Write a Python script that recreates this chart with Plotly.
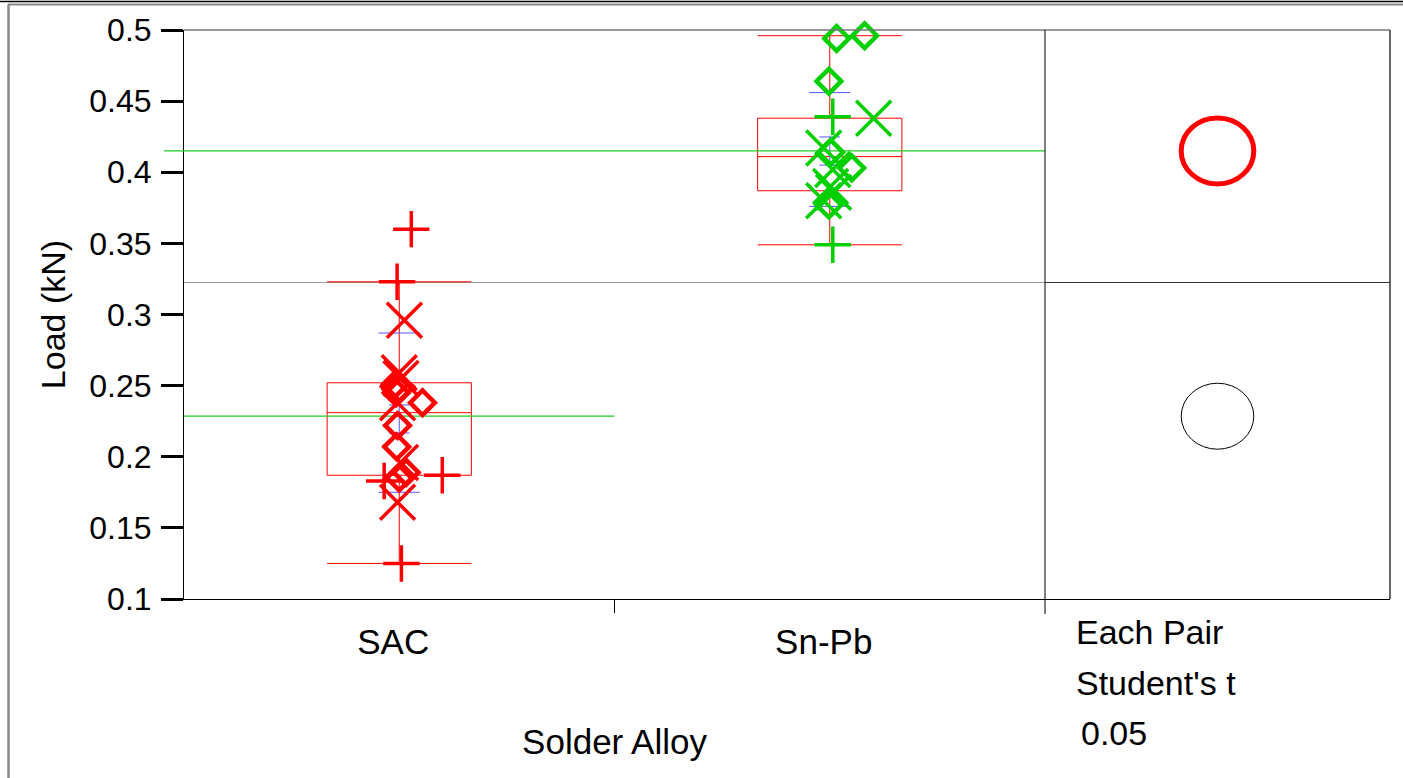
import plotly.graph_objects as go

W, H = 1403, 778

# ---------------- data ----------------
categories = ["SAC", "Sn-Pb"]
cat_pos = [0.5, 1.5]

# SAC points (load kN) by marker type, with jitter offsets (x units)
sac_plus_y = [0.360, 0.323, 0.183, 0.187, 0.125]
sac_plus_dx = [0.028, -0.005, -0.035, 0.100, 0.005]
sac_x_y = [0.296, 0.259, 0.255, 0.238, 0.196, 0.168]
sac_x_dx = [0.012, 0.0, 0.004, -0.004, 0.003, -0.004]
sac_dia_y = [0.251, 0.248, 0.245, 0.238, 0.222, 0.207, 0.189, 0.185]
sac_dia_dx = [-0.009, 0.0, -0.007, 0.054, -0.004, -0.006, 0.016, 0.0]

# Sn-Pb points
snpb_plus_y = [0.439, 0.349]
snpb_plus_dx = [0.007, 0.007]
snpb_x_y = [0.438, 0.417, 0.402, 0.390, 0.386, 0.380]
snpb_x_dx = [0.102, -0.014, 0.007, 0.002, 0.009, -0.014]
snpb_dia_y = [0.494, 0.496, 0.464, 0.414, 0.403, 0.377]
snpb_dia_dx = [0.016, 0.081, -0.002, 0.002, 0.051, -0.002]

# box statistics
q1 = [0.187, 0.387]
median = [0.231, 0.411]
q3 = [0.252, 0.438]
lowerfence = [0.125, 0.349]
upperfence = [0.323, 0.496]

# group means, std-dev lines, mean error bars
means = [0.2285, 0.415]
sd_hi = [0.287, 0.456]
sd_lo = [0.175, 0.376]
err_hi = [0.2364, 0.4248]
err_lo = [0.2167, 0.4050]
grand_mean = 0.3225

# comparison circles (radius in load units)
circle_radius = [0.0232, 0.0232]

y_ticks = [0.1, 0.15, 0.2, 0.25, 0.3, 0.35, 0.4, 0.45, 0.5]
y_ticktext = ["0.1", "0.15", "0.2", "0.25", "0.3", "0.35", "0.4", "0.45", "0.5"]

# ---------------- style ----------------
RED = "#FF0000"
GREEN = "#00D000"
MEANGREEN = "#22CC22"
BLUE = "#5555FF"
FONT = "Liberation Sans, Arial, sans-serif"

px_left, px_mid, px_right, px_end = 184, 1045, 1045, 1390
px_top, px_bot = 30, 599

fig = go.Figure()

colors = [RED, GREEN]
groups = [
    (sac_plus_y, sac_plus_dx, sac_x_y, sac_x_dx, sac_dia_y, sac_dia_dx),
    (snpb_plus_y, snpb_plus_dx, snpb_x_y, snpb_x_dx, snpb_dia_y, snpb_dia_dx),
]

# boxes
for i, c in enumerate(categories):
    fig.add_trace(go.Box(
        x=[cat_pos[i]], q1=[q1[i]], median=[median[i]], q3=[q3[i]],
        lowerfence=[lowerfence[i]], upperfence=[upperfence[i]],
        width=0.335, whiskerwidth=1, line=dict(color=RED, width=1),
        fillcolor="rgba(0,0,0,0)", boxpoints=False, showlegend=False,
        hoverinfo="skip",
    ))

# blue std dev lines and mean error bars
for i in range(2):
    cx = cat_pos[i]
    sdw = 0.048
    ew = 0.024
    xs = [cx - sdw, cx + sdw, None, cx - sdw, cx + sdw, None,
          cx - ew, cx + ew, None, cx - ew, cx + ew, None, cx, cx]
    ys = [sd_hi[i], sd_hi[i], None, sd_lo[i], sd_lo[i], None,
          err_hi[i], err_hi[i], None, err_lo[i], err_lo[i], None, err_lo[i], err_hi[i]]
    fig.add_trace(go.Scatter(x=xs, y=ys, mode="lines", line=dict(color=BLUE, width=1),
                             showlegend=False, hoverinfo="skip"))

# group mean lines (as traces, under the markers)
fig.add_trace(go.Scatter(x=[0, 1], y=[means[0], means[0]], mode="lines",
                         line=dict(color=MEANGREEN, width=1.3), showlegend=False,
                         hoverinfo="skip"))

# points
for i, g in enumerate(groups):
    py, pdx, xy, xdx, dy, ddx = g
    cx = cat_pos[i]
    col = colors[i]
    fig.add_trace(go.Scatter(
        x=[cx + d for d in pdx], y=py, mode="markers",
        marker=dict(symbol="cross-thin-open", size=26, color=col, line=dict(color=col, width=3.5)),
        showlegend=False, cliponaxis=False))
    fig.add_trace(go.Scatter(
        x=[cx + d for d in xdx], y=xy, mode="markers",
        marker=dict(symbol="x-thin-open", size=35, color=col, line=dict(color=col, width=3.5)),
        showlegend=False, cliponaxis=False))
    fig.add_trace(go.Scatter(
        x=[cx + d for d in ddx], y=dy, mode="markers",
        marker=dict(symbol="diamond-open", size=19, color=col, line=dict(color=col, width=4.5)),
        showlegend=False, cliponaxis=False))

# invisible trace on panel axis so it exists
fig.add_trace(go.Scatter(x=[0.5], y=[grand_mean], xaxis="x2", yaxis="y", mode="markers",
                         marker=dict(size=1, color="rgba(0,0,0,0)"), showlegend=False,
                         hoverinfo="skip"))

shapes = []
# grand mean line
shapes.append(dict(type="line", xref="x", yref="y", x0=0, x1=2, y0=grand_mean, y1=grand_mean,
                   line=dict(color="#999999", width=1), layer="below"))
shapes.append(dict(type="line", xref="x2", yref="y", x0=0, x1=1, y0=grand_mean, y1=grand_mean,
                   line=dict(color="#333333", width=1)))
# Sn-Pb mean line (extends slightly left of the axis)
shapes.append(dict(type="line", xref="paper", yref="y", x0=164 / W, x1=px_mid / W,
                   y0=means[1], y1=means[1], line=dict(color=MEANGREEN, width=1.2)))

# comparison circles
ypx_per_unit = (px_bot - px_top) / 0.4
x2px = px_end - px_right
circ_colors = [("black", 1), (RED, 5)]
for i in range(2):
    ry = circle_radius[i]
    rx = ry * ypx_per_unit * 1.1 / x2px
    col, lw = circ_colors[i]
    shapes.append(dict(type="circle", xref="x2", yref="y", x0=0.5 - rx, x1=0.5 + rx,
                       y0=means[i] - ry, y1=means[i] + ry, line=dict(color=col, width=lw)))

# frame lines
shapes.append(dict(type="line", xref="paper", yref="paper", x0=px_left / W, x1=px_end / W,
                   y0=1 - px_top / H, y1=1 - px_top / H, line=dict(color="#777777", width=1.5)))
shapes.append(dict(type="line", xref="paper", yref="paper", x0=px_end / W, x1=px_end / W,
                   y0=1 - px_top / H, y1=1 - px_bot / H, line=dict(color="#333333", width=1.5)))
shapes.append(dict(type="line", xref="paper", yref="paper", x0=px_mid / W, x1=px_mid / W,
                   y0=1 - px_top / H, y1=1 - 614 / H, line=dict(color="black", width=1)))
# outer image border
shapes.append(dict(type="line", xref="paper", yref="paper", x0=0, x1=1, y0=1 - 1.5 / H, y1=1 - 1.5 / H,
                   line=dict(color="black", width=1.5)))
shapes.append(dict(type="line", xref="paper", yref="paper", x0=8 / W, x1=1, y0=1 - 4.5 / H, y1=1 - 4.5 / H,
                   line=dict(color="#888888", width=2)))
shapes.append(dict(type="line", xref="paper", yref="paper", x0=8.5 / W, x1=8.5 / W, y0=0, y1=1 - 4.5 / H,
                   line=dict(color="#888888", width=2.5)))

annotations = []
for k, (txt, xoff) in enumerate([("Each Pair", 0), ("Student's t", 0), ("0.05", 5)]):
    annotations.append(dict(text=txt, xref="paper", yref="paper", x=(1074 + xoff) / W,
                            y=1 - (632 + 50.5 * k) / H, xanchor="left", yanchor="middle",
                            showarrow=False, font=dict(family=FONT, size=34, color="black")))

fig.update_layout(
    width=W, height=H, margin=dict(l=0, r=0, t=0, b=0, pad=0),
    paper_bgcolor="white", plot_bgcolor="white",
    font=dict(family=FONT, size=32, color="black"),
    xaxis=dict(domain=[px_left / W, px_mid / W], range=[0, 2], showgrid=False, zeroline=False,
               automargin=False,
               showline=True, linecolor="black", linewidth=1,
               tickmode="array", tickvals=cat_pos, ticktext=categories, ticks="",
               ticklabelstandoff=12, ticklabelshift=-6, tickfont=dict(size=35),
               minor=dict(tickmode="array", tickvals=[1], ticks="outside", ticklen=13,
                          tickcolor="black", tickwidth=1),
               title=dict(text="Solder Alloy", standoff=69, font=dict(size=35))),
    xaxis2=dict(domain=[px_right / W, px_end / W], range=[0, 1], anchor="y", showgrid=False,
                automargin=False,
                zeroline=False, showline=True, linecolor="black", linewidth=1,
                showticklabels=False, ticks=""),
    yaxis=dict(domain=[1 - px_bot / H, 1 - px_top / H], range=[0.1, 0.5], showgrid=False,
               automargin=False,
               zeroline=False, showline=True, linecolor="black", linewidth=1,
               tickmode="array", tickvals=y_ticks, ticktext=y_ticktext,
               ticks="outside", ticklen=22, tickwidth=2.5, tickcolor="black",
               ticklabelstandoff=3, tickfont=dict(size=32),
               title=dict(text="Load (kN)", standoff=13, font=dict(size=34))),
    shapes=shapes, annotations=annotations,
)

fig.write_html("out.html", config={"displayModeBar": False},
               post_script="document.body.style.margin='0';")
